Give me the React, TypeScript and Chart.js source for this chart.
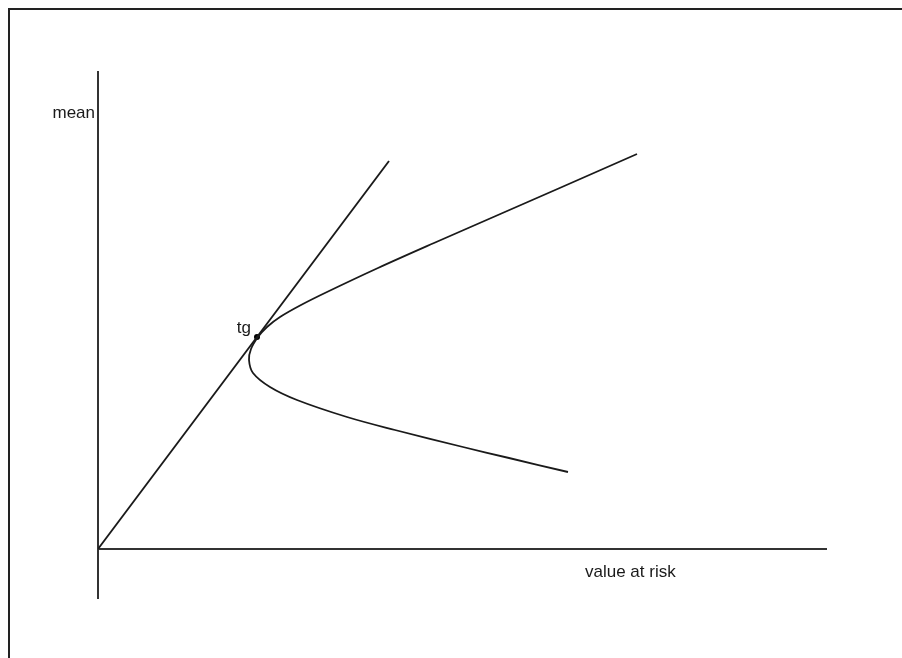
import React, { useEffect, useRef } from "react";
import { Chart, registerables } from "chart.js";

Chart.register(...registerables);

// Mean / value-at-risk frontier, ordered upper branch -> lower branch
const frontierVaR = [539, 464, 400, 336, 280, 229, 203, 182, 169, 160, 153, 151, 155, 172, 199, 249, 297, 365, 411, 470];
const frontierMean = [395, 362, 334, 306, 281, 257, 244, 232, 222, 212, 200, 189, 176, 162, 149, 132, 119, 102, 91, 77];

// Tangent line from the origin
const tangentVaR = [0, 291];
const tangentMean = [0, 388];

// Tangency point
const tangencyVaR = [159];
const tangencyMean = [212];

// Axis extents
const xAxisRange = [0, 728];
const yAxisRange = [-49, 477];

const xAxisLabel = "value at risk";
const yAxisLabel = "mean";
const tangencyLabel = "tg";

const FONT = '17px "Liberation Sans", Arial, sans-serif';

const zip = (xs: number[], ys: number[]) => xs.map((x, i) => ({ x, y: ys[i] }));

const decorPlugin = {
  id: "decor",
  beforeDraw(chart: any) {
    const ctx = chart.ctx;
    ctx.save();
    ctx.strokeStyle = "#222";
    ctx.lineWidth = 2;
    ctx.beginPath();
    ctx.moveTo(9, chart.height);
    ctx.lineTo(9, 9);
    ctx.lineTo(chart.width, 9);
    ctx.stroke();
    ctx.restore();
  },
  afterDraw(chart: any) {
    const ctx = chart.ctx;
    const xs = chart.scales.x;
    const ys = chart.scales.y;
    const area = chart.chartArea;
    ctx.save();
    ctx.fillStyle = "#1a1a1a";
    ctx.font = FONT;
    ctx.textBaseline = "middle";
    // y-axis label
    ctx.textAlign = "right";
    ctx.fillText(yAxisLabel, area.left - 3, area.top + 41);
    // x-axis label
    ctx.textAlign = "left";
    ctx.fillText(xAxisLabel, xs.getPixelForValue(487), ys.getPixelForValue(0) + 23);
    // tangency label
    ctx.textAlign = "right";
    ctx.fillText(tangencyLabel, xs.getPixelForValue(tangencyVaR[0]) - 6, ys.getPixelForValue(tangencyMean[0]) - 9);
    ctx.restore();
  },
};

export default function App() {
  const ref = useRef<HTMLCanvasElement>(null);

  useEffect(() => {
    if (!ref.current) return;
    const chart = new Chart(ref.current, {
      type: "scatter",
      data: {
        datasets: [
          {
            data: zip(frontierVaR, frontierMean),
            showLine: true,
            borderColor: "#1a1a1a",
            borderWidth: 1.8,
            pointRadius: 0,
            tension: 0.35,
            fill: false,
          },
          {
            data: zip(tangentVaR, tangentMean),
            showLine: true,
            borderColor: "#1a1a1a",
            borderWidth: 1.8,
            pointRadius: 0,
            tension: 0,
            fill: false,
          },
          {
            data: zip(tangencyVaR, tangencyMean),
            showLine: false,
            pointRadius: 3,
            pointBackgroundColor: "#000",
            pointBorderColor: "#000",
            pointBorderWidth: 0,
          },
        ],
      },
      options: {
        responsive: false,
        animation: false,
        layout: { padding: { left: 98, right: 76, top: 72, bottom: 60 } },
        plugins: {
          legend: { display: false },
          tooltip: { enabled: false },
        },
        scales: {
          x: {
            type: "linear",
            min: xAxisRange[0],
            max: xAxisRange[1],
            position: { y: 0 },
            ticks: { display: false },
            grid: { display: false, drawTicks: false },
            border: { display: true, color: "#333", width: 2 },
          },
          y: {
            type: "linear",
            min: yAxisRange[0],
            max: yAxisRange[1],
            position: "left",
            ticks: { display: false },
            grid: { display: false, drawTicks: false },
            border: { display: true, color: "#333", width: 2 },
          },
        },
      },
      plugins: [decorPlugin],
    });
    return () => chart.destroy();
  }, []);

  return (
    <div style={{ position: "fixed", left: 0, top: 0, width: 902, height: 658, background: "#fff" }}>
      <canvas ref={ref} width={902} height={658} style={{ display: "block" }} />
    </div>
  );
}
